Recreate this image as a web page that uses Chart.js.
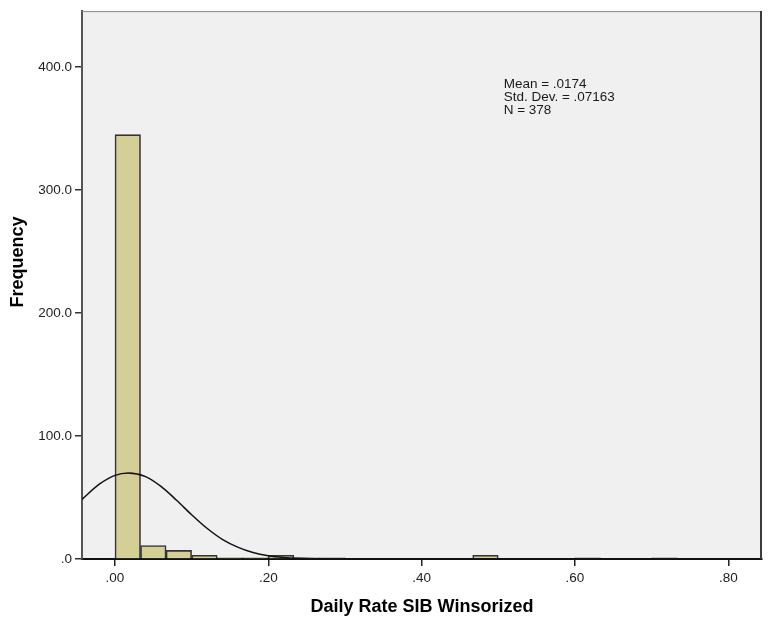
<!DOCTYPE html>
<html><head><meta charset="utf-8">
<script src="https://cdn.jsdelivr.net/npm/chart.js@4"></script>
<style>html,body{margin:0;padding:0;background:#fff}#wrap{width:768px;height:624px;position:relative}</style>
</head><body><div id="wrap"><canvas id="c" width="768" height="624"></canvas></div>
<script>
// ---- data ----
const binCenters = [0.0167, 0.05, 0.0833, 0.1167, 0.15, 0.1833, 0.2167, 0.25, 0.2833, 0.3167,
  0.35, 0.3833, 0.4167, 0.45, 0.4833, 0.5167, 0.55, 0.5833, 0.6167, 0.65,
  0.6833, 0.7167, 0.75, 0.7833, 0.8167];
const frequencies = [345, 11, 7, 3, 1, 1, 3, 1, 1, 0,
  0, 0, 0, 0, 3, 0, 0, 0, 1, 0,
  0, 1, 0, 0, 0];
const curveX = [-0.043, -0.02, 0, 0.0174, 0.04, 0.06, 0.08, 0.10, 0.12, 0.14, 0.16, 0.18, 0.20, 0.22, 0.24, 0.26, 0.28, 0.30, 0.34, 0.40, 0.50, 0.60, 0.70, 0.844];
const curveY = [48.5, 61, 68, 70, 67, 59, 48, 36, 25, 16, 9.7, 5.3, 2.7, 1.3, 0.6, 0.2, 0.1, 0, 0, 0, 0, 0, 0, 0];
const xTickValues = [0, 0.2, 0.4, 0.6, 0.8];
const xTickLabels = ['.00', '.20', '.40', '.60', '.80'];
const yTickValues = [0, 100, 200, 300, 400];
const yTickLabels = ['.0', '100.0', '200.0', '300.0', '400.0'];
const statsLines = ['Mean = .0174', 'Std. Dev. = .07163', 'N = 378'];
const xTitle = 'Daily Rate SIB Winsorized';
const yTitle = 'Frequency';

const FONT = "'Liberation Sans', Arial, sans-serif";

const framePlugin = {
  id: 'frame',
  beforeDraw(chart) {
    const {ctx, chartArea: a} = chart;
    ctx.save();
    ctx.fillStyle = '#f0f0f0';
    ctx.fillRect(a.left, a.top, a.right - a.left, a.bottom - a.top);
    ctx.restore();
  },
  afterDraw(chart) {
    const {ctx, chartArea: a} = chart;
    ctx.save();
    ctx.strokeStyle = '#8a8a8a';
    ctx.lineWidth = 1;
    ctx.beginPath();
    ctx.moveTo(a.left, a.top + 0.5);
    ctx.lineTo(a.right, a.top + 0.5);
    ctx.stroke();
    ctx.strokeStyle = '#3a3a3a';
    ctx.lineWidth = 2;
    ctx.beginPath();
    ctx.moveTo(a.right - 1, a.top);
    ctx.lineTo(a.right - 1, a.bottom);
    ctx.stroke();
    // stats text
    ctx.fillStyle = '#1a1a1a';
    ctx.font = '13.5px ' + FONT;
    ctx.textBaseline = 'middle';
    ctx.textAlign = 'left';
    const x = chart.scales.x.getPixelForValue(0.507);
    statsLines.forEach((t, i) => ctx.fillText(t, x, 84 + i * 13));
    // y axis title
    ctx.fillStyle = '#000';
    ctx.font = 'bold 18px ' + FONT;
    ctx.textAlign = 'center';
    ctx.translate(18, 262);
    ctx.rotate(-Math.PI / 2);
    ctx.fillText(yTitle, 0, 0);
    ctx.restore();
  }
};

const tickFont = {family: FONT, size: 13.5};
const titleFont = {family: FONT, size: 18, weight: 'bold'};

new Chart(document.getElementById('c'), {
  data: {
    datasets: [
      {
        type: 'line',
        data: curveX.map((x, i) => ({x, y: curveY[i]})),
        borderColor: '#111',
        borderWidth: 1.5,
        pointRadius: 0,
        cubicInterpolationMode: 'monotone',
        fill: false,
        order: 0
      },
      {
        type: 'bar',
        data: binCenters.map((x, i) => ({x, y: frequencies[i]})),
        backgroundColor: '#d3cf97',
        borderColor: '#333',
        borderWidth: 1.6,
        borderSkipped: 'bottom',
        barPercentage: 1,
        categoryPercentage: 1,
        order: 1
      }
    ]
  },
  options: {
    responsive: false,
    animation: false,
    devicePixelRatio: 1,
    layout: {padding: {top: 7, right: 6, left: 0, bottom: 0}},
    plugins: {legend: {display: false}, tooltip: {enabled: false}},
    scales: {
      x: {
        type: 'linear',
        min: -0.043,
        max: 0.844,
        offset: false,
        afterBuildTicks: s => { s.ticks = xTickValues.map(v => ({value: v})); },
        afterFit: s => { s.height = 65; },
        ticks: {
          callback: (v, i) => xTickLabels[i],
          font: tickFont, color: '#222', padding: 4, maxRotation: 0, autoSkip: false
        },
        grid: {offset: false, drawOnChartArea: false, drawTicks: true, tickLength: 7, color: '#222', lineWidth: 1.5},
        border: {display: true, color: '#111', width: 2},
        title: {display: true, text: xTitle, font: titleFont, color: '#000', padding: {top: 0, bottom: 6}}
      },
      y: {
        type: 'linear',
        min: 0,
        max: 445.5,
        afterBuildTicks: s => { s.ticks = yTickValues.map(v => ({value: v})); },
        afterFit: s => { s.width = 82; },
        ticks: {
          callback: (v, i) => yTickLabels[i],
          font: tickFont, color: '#222', padding: 3, autoSkip: false
        },
        grid: {drawOnChartArea: false, drawTicks: true, tickLength: 7, color: '#333', lineWidth: 1.5},
        border: {display: true, color: '#555', width: 2},
        title: {display: false}
      }
    }
  },
  plugins: [framePlugin]
});
</script>
</body></html>
